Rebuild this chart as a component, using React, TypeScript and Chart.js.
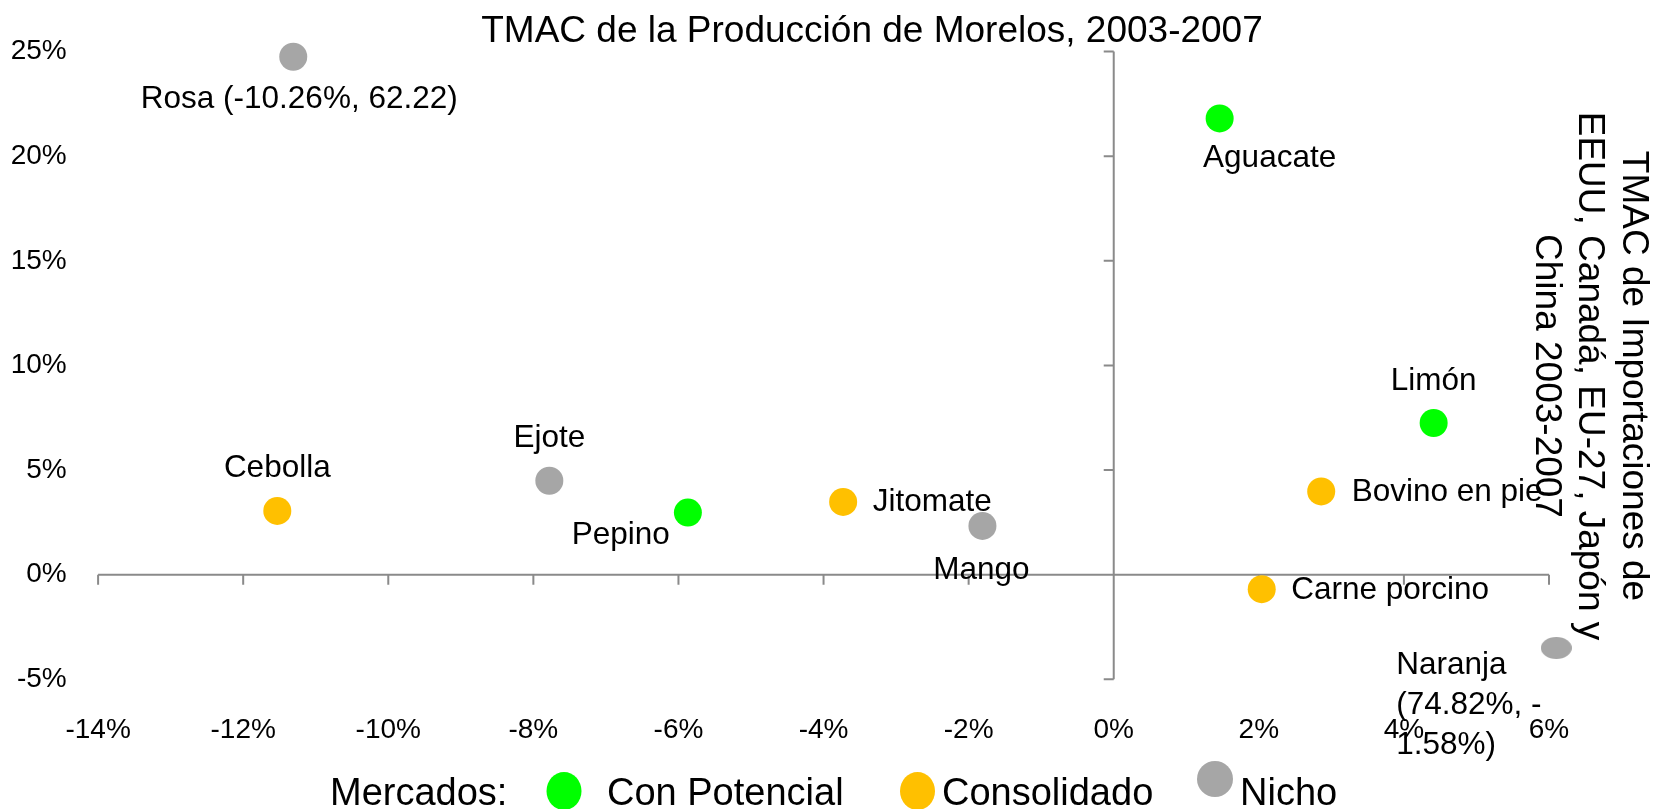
import React, { useEffect, useRef } from "react";
import { Chart, registerables } from "chart.js";

Chart.register(...registerables);

// ---------- Text ----------
const TITLE = "TMAC de la Producción de Morelos, 2003-2007";
const RIGHT_TITLE = ["TMAC de Importaciones de", "EEUU, Canadá, EU-27, Japón y", "China 2003-2007"];
const LEGEND_PREFIX = "Mercados:";
const SERIES_NAMES = ["Con Potencial", "Consolidado", "Nicho"];

// ---------- Data ----------
// x: TMAC de la Producción de Morelos (%), y: TMAC de Importaciones (%)
const potencialLabels = ["Aguacate", "Limón", "Pepino"];
const potencialX = [1.46, 4.41, -5.87];
const potencialY = [21.8, 7.25, 2.97];

const consolidadoLabels = ["Cebolla", "Jitomate", "Bovino en pie", "Carne porcino"];
const consolidadoX = [-11.53, -3.73, 2.86, 2.04];
const consolidadoY = [3.05, 3.48, 3.98, -0.69];

const nichoLabels = ["Rosa (-10.26%, 62.22)", "Ejote", "Mango", "Naranja\n(74.82%, -\n1.58%)"];
const nichoX = [-11.31, -7.78, -1.81, 6.1];
const nichoY = [24.75, 4.49, 2.33, -3.5];

// axis ranges / tick labels
const X_MIN = -14;
const X_MAX = 6;
const X_STEP = 2;
const Y_MIN = -5;
const Y_MAX = 25;
const Y_STEP = 5;
const formatPct = (v: number) => `${v}%`;

// ---------- Styles ----------
const FONT = '"Liberation Sans", Arial, Helvetica, sans-serif';
const COLORS = ["#00FF00", "#FFC000", "#A6A6A6"];
const AXIS_COLOR = "#8a8a8a";

// label placement (pixel offsets from the point centre)
type Place = { align: CanvasTextAlign; dx: number; dy: number };
const potencialPlace: Place[] = [
  { align: "center", dx: 50, dy: 40 },
  { align: "center", dx: 0, dy: -42 },
  { align: "right", dx: -18, dy: 23 },
];
const consolidadoPlace: Place[] = [
  { align: "center", dx: 0, dy: -43 },
  { align: "left", dx: 29.5, dy: 0.7 },
  { align: "left", dx: 30.5, dy: 0.4 },
  { align: "left", dx: 29.5, dy: 1.3 },
];
const nichoPlace: Place[] = [
  { align: "center", dx: 6, dy: 43 },
  { align: "center", dx: 0, dy: -42.5 },
  { align: "center", dx: -1, dy: 44.5 },
  { align: "left", dx: -160, dy: 17.5 },
];

function makeEllipse(w: number, h: number, color: string) {
  const c = document.createElement("canvas");
  c.width = w;
  c.height = h;
  const g = c.getContext("2d")!;
  g.fillStyle = color;
  g.beginPath();
  g.ellipse(w / 2, h / 2, w / 2, h / 2, 0, 0, Math.PI * 2);
  g.fill();
  return c;
}

const toPoints = (xs: number[], ys: number[]) => xs.map((x, i) => ({ x, y: ys[i] }));

export default function App() {
  const ref = useRef<HTMLCanvasElement>(null);

  useEffect(() => {
    const canvas = ref.current!;
    const naranjaStyle = makeEllipse(31, 22, COLORS[2]);

    const allLabels = [potencialLabels, consolidadoLabels, nichoLabels];
    const allPlaces = [potencialPlace, consolidadoPlace, nichoPlace];

    const crossAxes = {
      id: "crossAxes",
      beforeDatasetsDraw(chart: any) {
        const { ctx, scales } = chart;
        const xs = scales.x;
        const ys = scales.y;
        const x0 = xs.getPixelForValue(0);
        const y0 = ys.getPixelForValue(0);
        ctx.save();
        ctx.strokeStyle = AXIS_COLOR;
        ctx.lineWidth = 2;
        ctx.beginPath();
        ctx.moveTo(xs.left, y0);
        ctx.lineTo(xs.right, y0);
        xs.ticks.forEach((t: any) => {
          const px = xs.getPixelForValue(t.value);
          ctx.moveTo(px, y0);
          ctx.lineTo(px, y0 + 10);
        });
        ctx.moveTo(x0, ys.top);
        ctx.lineTo(x0, ys.bottom);
        ys.ticks.forEach((t: any) => {
          const py = ys.getPixelForValue(t.value);
          ctx.moveTo(x0, py);
          ctx.lineTo(x0 - 10, py);
        });
        ctx.stroke();
        ctx.restore();
      },
    };

    const pointLabels = {
      id: "pointLabels",
      afterDatasetsDraw(chart: any) {
        const { ctx } = chart;
        ctx.save();
        ctx.fillStyle = "#000";
        ctx.font = `31.5px ${FONT}`;
        ctx.textBaseline = "middle";
        chart.data.datasets.forEach((ds: any, di: number) => {
          const meta = chart.getDatasetMeta(di);
          meta.data.forEach((el: any, i: number) => {
            const place = allPlaces[di][i];
            const lines = String(allLabels[di][i]).split("\n");
            ctx.textAlign = place.align;
            lines.forEach((line, li) => {
              ctx.fillText(line, el.x + place.dx, el.y + place.dy + li * 39.7);
            });
          });
        });
        ctx.restore();
      },
    };

    const decorations = {
      id: "decorations",
      afterDraw(chart: any) {
        const { ctx } = chart;
        ctx.save();
        ctx.fillStyle = "#000";
        // title
        ctx.font = `37px ${FONT}`;
        ctx.textAlign = "center";
        ctx.textBaseline = "alphabetic";
        ctx.fillText(TITLE, 872, 42);
        // right axis title (rotated)
        ctx.save();
        ctx.translate(1633, 376);
        ctx.rotate(Math.PI / 2);
        ctx.textAlign = "center";
        ctx.textBaseline = "middle";
        RIGHT_TITLE.forEach((line, i) => ctx.fillText(line, 0, i * 43.5));
        ctx.restore();
        // legend
        ctx.font = `38px ${FONT}`;
        ctx.textAlign = "left";
        ctx.textBaseline = "alphabetic";
        ctx.fillText(LEGEND_PREFIX, 330, 805);
        const markerX = [564, 917.5, 1215];
        const markerY = [791, 791, 779];
        const markerR = [
          [17.5, 19],
          [17.5, 19],
          [18, 18],
        ];
        const textX = [607, 942, 1240];
        chart.data.datasets.forEach((ds: any, i: number) => {
          ctx.fillStyle = ds.backgroundColor;
          ctx.beginPath();
          ctx.ellipse(markerX[i], markerY[i], markerR[i][0], markerR[i][1], 0, 0, Math.PI * 2);
          ctx.fill();
          ctx.fillStyle = "#000";
          ctx.fillText(ds.label, textX[i], 805);
        });
        ctx.restore();
      },
    };

    const chart = new Chart(canvas, {
      type: "scatter",
      data: {
        datasets: [
          {
            label: SERIES_NAMES[0],
            data: toPoints(potencialX, potencialY),
            backgroundColor: COLORS[0],
            pointRadius: 14,
            borderWidth: 0,
            clip: false,
          },
          {
            label: SERIES_NAMES[1],
            data: toPoints(consolidadoX, consolidadoY),
            backgroundColor: COLORS[1],
            pointRadius: 14,
            borderWidth: 0,
            clip: false,
          },
          {
            label: SERIES_NAMES[2],
            data: toPoints(nichoX, nichoY),
            backgroundColor: COLORS[2],
            pointRadius: 14,
            borderWidth: 0,
            pointStyle: ["circle", "circle", "circle", naranjaStyle],
            clip: false,
          },
        ],
      } as any,
      options: {
        responsive: false,
        animation: false,
        devicePixelRatio: 1,
        events: [],
        layout: { padding: { top: 51.5, left: 0, right: 104, bottom: 0 } },
        plugins: {
          legend: { display: false },
          title: { display: false },
          tooltip: { enabled: false },
        },
        scales: {
          x: {
            type: "linear",
            position: "bottom",
            min: X_MIN,
            max: X_MAX,
            grid: { display: false, drawTicks: false },
            border: { display: false },
            ticks: {
              stepSize: X_STEP,
              padding: 34.5,
              color: "#000",
              font: { family: FONT, size: 28 },
              callback: (v: any) => formatPct(v),
            },
            afterFit: (s: any) => {
              s.height = 129.65;
              s.paddingLeft = 0;
              s.paddingRight = 0;
              s.paddingTop = 0;
              s.paddingBottom = 0;
            },
          },
          y: {
            type: "linear",
            position: "left",
            min: Y_MIN,
            max: Y_MAX,
            grid: { display: false, drawTicks: false },
            border: { display: false },
            ticks: {
              stepSize: Y_STEP,
              padding: 31.4,
              color: "#000",
              font: { family: FONT, size: 28 },
              callback: (v: any) => formatPct(v),
            },
            afterFit: (s: any) => {
              s.width = 98.1;
              s.paddingLeft = 0;
              s.paddingRight = 0;
              s.paddingTop = 0;
              s.paddingBottom = 0;
            },
          },
        },
      } as any,
      plugins: [crossAxes, pointLabels, decorations],
    });

    return () => chart.destroy();
  }, []);

  return (
    <div style={{ position: "absolute", left: 0, top: 0, width: 1653, height: 809, background: "#fff" }}>
      <canvas ref={ref} width={1653} height={809} style={{ display: "block", width: 1653, height: 809 }} />
    </div>
  );
}
